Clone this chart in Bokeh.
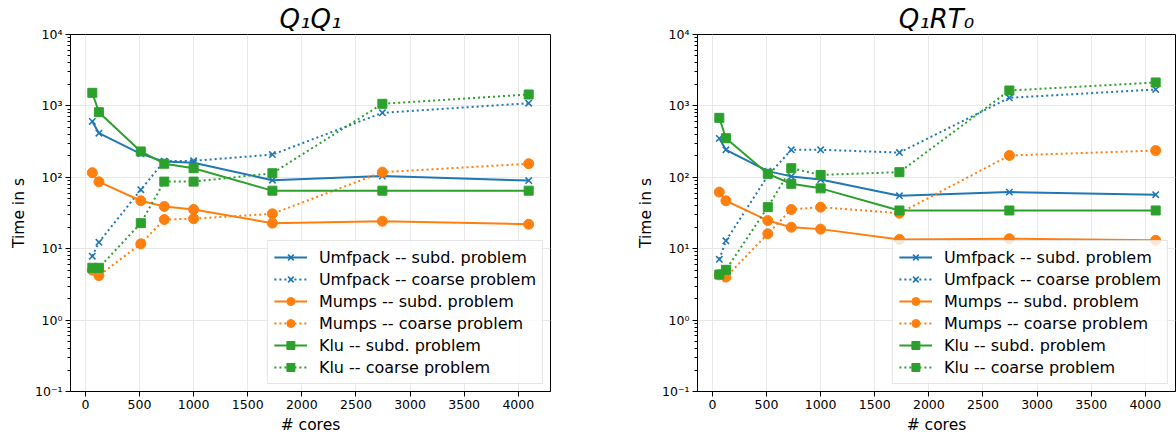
from bokeh.plotting import figure
from bokeh.layouts import row
from bokeh.models import Range1d, FixedTicker, CustomJSTickFormatter, Legend, LegendItem
from bokeh.embed import file_html
from bokeh.resources import INLINE

# ---------------- data ----------------
cores = [64, 125, 512, 729, 1000, 1728, 2744, 4096]

q1q1_umfpack_subd = [605, 415, 213, 166, 160, 91, 104, 90]
q1q1_umfpack_coarse = [7.85, 12.3, 67, 168, 170, 208, 800, 1090]
q1q1_mumps_subd = [116, 86.5, 46.9, 39, 35.4, 22.8, 24.3, 22.0]
q1q1_mumps_coarse = [5.0, 4.2, 11.7, 25.6, 26.3, 30.8, 118, 155]
q1q1_klu_subd = [1525, 816, 230, 155, 134, 65, 65, 65]
q1q1_klu_coarse = [5.4, 5.4, 22.8, 87, 87, 114, 1070, 1445]

q1rt0_umfpack_subd = [350, 243, 122, 103, 93, 55, 62, 57]
q1rt0_umfpack_coarse = [7.1, 12.9, 105, 243, 243, 222, 1298, 1698]
q1rt0_mumps_subd = [62, 46.9, 24.8, 20, 18.8, 13.5, 13.8, 13.1]
q1rt0_mumps_coarse = [4.3, 4.0, 16.2, 35.4, 38.2, 31.4, 202, 237]
q1rt0_klu_subd = [681, 353, 112, 81, 70, 34.3, 34.3, 34.3]
q1rt0_klu_coarse = [4.35, 5.06, 38.2, 134, 108, 118, 1643, 2128]

series_labels = [
    "Umfpack -- subd. problem",
    "Umfpack -- coarse problem",
    "Mumps -- subd. problem",
    "Mumps -- coarse problem",
    "Klu -- subd. problem",
    "Klu -- coarse problem",
]

titles = ["Q\u2081Q\u2081", "Q\u2081RT\u2080"]
x_label = "# cores"
y_label = "Time in s"
x_ticks = [0, 500, 1000, 1500, 2000, 2500, 3000, 3500, 4000]
y_ticks = [0.1, 1, 10, 100, 1000, 10000]
y_tick_labels = ["10\u207b\u00b9", "10\u2070", "10\u00b9", "10\u00b2", "10\u00b3", "10\u2074"]
y_minor_ticks = [m * 10.0 ** k for k in range(-1, 4) for m in range(2, 10)]

# ---------------- styles ----------------
colors = ["#1f77b4", "#1f77b4", "#ff7f0e", "#ff7f0e", "#2ca02c", "#2ca02c"]
markers = ["x", "x", "circle", "circle", "square", "square"]
marker_sizes = [9, 9, 10, 10, 9, 9]
dashes = ["solid", "2 3", "solid", "2 3", "solid", "2 3"]
FONT = "DejaVu Sans"
FIG_H = 436
FRAME_TOP = 34
FRAME_BOTTOM_BORDER = 45


def panel(title, series, x_end, frame_w, mb_left, mb_right):
    p = figure(
        width=mb_left + frame_w + mb_right, height=FIG_H,
        x_range=Range1d(-137.6, x_end), y_range=Range1d(0.1, 1e4),
        y_axis_type="log", output_backend="svg", toolbar_location=None,
        min_border_left=mb_left, min_border_right=mb_right,
        min_border_top=FRAME_TOP, min_border_bottom=FRAME_BOTTOM_BORDER, title=title,
    )
    p.title.text_font = FONT
    p.title.text_font_size = "26px"
    p.title.text_font_style = "italic"
    p.title.align = "center"
    p.title.standoff = 2
    p.title.text_color = "black"

    p.outline_line_color = "black"
    p.outline_line_alpha = 1
    p.outline_line_width = 1
    p.background_fill_color = "white"
    p.border_fill_color = "white"

    p.xaxis.ticker = FixedTicker(ticks=x_ticks)
    p.yaxis.ticker = FixedTicker(ticks=y_ticks, minor_ticks=y_minor_ticks)
    p.yaxis.formatter = CustomJSTickFormatter(
        args=dict(keys=[str(v) for v in y_ticks], labels=y_tick_labels),
        code="""
            for (let i = 0; i < keys.length; i++) {
                if (Math.abs(Math.log10(tick) - Math.log10(parseFloat(keys[i]))) < 1e-6) return labels[i];
            }
            return '';
        """,
    )
    for ax in (p.xaxis, p.yaxis):
        ax.axis_line_color = "black"
        ax.major_tick_line_color = "black"
        ax.major_tick_in = 0
        ax.major_tick_out = 5
        ax.minor_tick_in = 0
        ax.minor_tick_out = 3
        ax.major_label_text_font = FONT
        ax.major_label_text_font_size = "12.5px"
        ax.major_label_text_color = "black"
        ax.major_label_standoff = 3
        ax.axis_label_text_font = FONT
        ax.axis_label_text_font_size = "15.5px"
        ax.axis_label_text_font_style = "normal"
        ax.axis_label_text_color = "black"
        ax.axis_label_standoff = 4
    p.xaxis.minor_tick_line_color = None
    p.yaxis.minor_tick_line_color = "black"
    p.xaxis.axis_label = x_label
    p.yaxis.axis_label = y_label

    p.xgrid.grid_line_color = "#e8e8e8"
    p.ygrid.grid_line_color = "#e8e8e8"
    p.xgrid.grid_line_width = 1
    p.ygrid.grid_line_width = 1

    items = []
    for vals, lab, col, mk, ms, dash in zip(series, series_labels, colors, markers, marker_sizes, dashes):
        rl = p.line(cores, vals, line_color=col, line_width=2, line_dash=dash)
        rs = p.scatter(cores, vals, marker=mk, size=ms, fill_color=col, line_color=col,
                       line_width=1.6 if mk == "x" else 1)
        items.append(LegendItem(label=lab, renderers=[rl, rs]))

    leg = Legend(items=items, location="bottom_right")
    leg.label_text_font = FONT
    leg.label_text_font_size = "16px"
    leg.label_text_color = "black"
    leg.background_fill_color = "white"
    leg.background_fill_alpha = 0.8
    leg.border_line_color = "#cccccc"
    leg.border_line_width = 1
    leg.margin = 7
    leg.padding = 6
    leg.spacing = 2
    leg.label_height = 20
    leg.glyph_height = 20
    leg.glyph_width = 33
    leg.label_standoff = 12
    p.add_layout(leg)
    return p


p1 = panel(titles[0],
           [q1q1_umfpack_subd, q1q1_umfpack_coarse, q1q1_mumps_subd,
            q1q1_mumps_coarse, q1q1_klu_subd, q1q1_klu_coarse],
           4297.6, 480, 70, 20)
p2 = panel(titles[1],
           [q1rt0_umfpack_subd, q1rt0_umfpack_coarse, q1rt0_mumps_subd,
            q1rt0_mumps_coarse, q1rt0_klu_subd, q1rt0_klu_coarse],
           4279.0, 478, 127, 1)

layout = row(p1, p2)
open("out.html", "w").write(file_html(layout, INLINE))
